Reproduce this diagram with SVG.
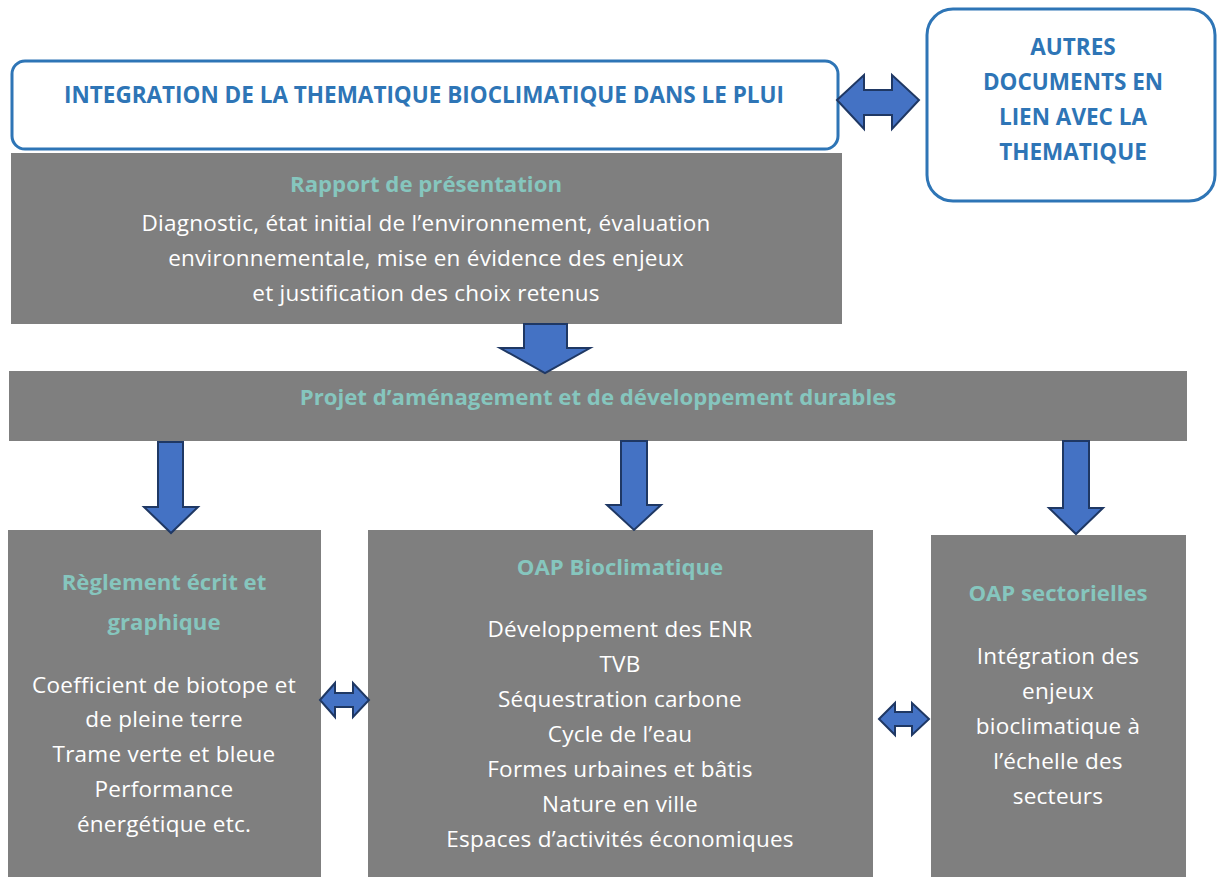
<svg xmlns="http://www.w3.org/2000/svg" width="1217" height="877" viewBox="0 0 1217 877">
<style>
.blue{fill:#fff;stroke:#2E75B6;stroke-width:3}
.gray{fill:#7F7F7F}
.bt{font-family:"Open Sans",Lato,sans-serif;font-weight:bold;fill:#2E75B6;font-size:22.5px;text-anchor:middle}
.tt{font-family:"Open Sans",Lato,sans-serif;font-weight:bold;fill:#86C6BE;font-size:22.2px;text-anchor:middle}
.wt{font-family:"Open Sans",Lato,sans-serif;fill:#fff;font-size:22.5px;letter-spacing:0.25px;text-anchor:middle}
.arr{fill:#4472C4;stroke:#1F3864;stroke-width:2;stroke-linejoin:miter}
</style>
<rect width="1217" height="877" fill="#fff"/>
<g id="integration">
<rect class="blue" x="12" y="61" width="826" height="88" rx="13"/>
<text class="bt" x="424" y="103">INTEGRATION DE LA THEMATIQUE BIOCLIMATIQUE DANS LE PLUI</text>
</g>
<g id="autres">
<rect class="blue" x="927" y="9" width="288" height="192" rx="26"/>
<text class="bt" x="1073" y="55">AUTRES</text>
<text class="bt" x="1073" y="90">DOCUMENTS EN</text>
<text class="bt" x="1073" y="125">LIEN AVEC LA</text>
<text class="bt" x="1073" y="160">THEMATIQUE</text>
</g>
<g id="rapport">
<rect class="gray" x="11" y="153" width="831" height="171"/>
<text class="tt" x="426" y="192">Rapport de présentation</text>
<text class="wt" x="426" y="231">Diagnostic, état initial de l’environnement, évaluation</text>
<text class="wt" x="426" y="266">environnementale, mise en évidence des enjeux</text>
<text class="wt" x="426" y="301">et justification des choix retenus</text>
</g>
<g id="padd">
<rect class="gray" x="9" y="371" width="1178" height="70"/>
<text class="tt" x="598" y="405">Projet d’aménagement et de développement durables</text>
</g>
<g id="reglement">
<rect class="gray" x="8" y="530" width="313" height="347"/>
<text class="tt" x="164" y="590">Règlement écrit et</text>
<text class="tt" x="164" y="630">graphique</text>
<text class="wt" x="164" y="693">Coefficient de biotope et</text>
<text class="wt" x="164" y="727">de pleine terre</text>
<text class="wt" x="164" y="762">Trame verte et bleue</text>
<text class="wt" x="164" y="797">Performance</text>
<text class="wt" x="164" y="832">énergétique etc.</text>
</g>
<g id="oap-bioclimatique">
<rect class="gray" x="368" y="530" width="505" height="347"/>
<text class="tt" x="620" y="575">OAP Bioclimatique</text>
<text class="wt" x="620" y="637">Développement des ENR</text>
<text class="wt" x="620" y="672">TVB</text>
<text class="wt" x="620" y="707">Séquestration carbone</text>
<text class="wt" x="620" y="742">Cycle de l’eau</text>
<text class="wt" x="620" y="777">Formes urbaines et bâtis</text>
<text class="wt" x="620" y="812">Nature en ville</text>
<text class="wt" x="620" y="847">Espaces d’activités économiques</text>
</g>
<g id="oap-sectorielles">
<rect class="gray" x="931" y="535" width="255" height="342"/>
<text class="tt" x="1058" y="601">OAP sectorielles</text>
<text class="wt" x="1058" y="664">Intégration des</text>
<text class="wt" x="1058" y="699">enjeux</text>
<text class="wt" x="1058" y="734">bioclimatique à</text>
<text class="wt" x="1058" y="769">l’échelle des</text>
<text class="wt" x="1058" y="804">secteurs</text>
</g>
<g id="connectors">
<polygon class="arr" points="837,100 864,75 864,90 892,90 892,75 919,100 892,129 892,115 864,115 864,129"/>
<polygon class="arr" points="524,324 567,324 567,348 590,348 545,373 500,348 524,348"/>
<polygon class="arr" points="158,442 183,442 183,507 198,507 171,533 144,507 158,507"/>
<polygon class="arr" points="621,441 647,441 647,505 661,505 634,530 607,505 621,505"/>
<polygon class="arr" points="1063,441 1089,441 1089,508 1103,508 1076,534 1049,508 1063,508"/>
<polygon class="arr" points="320,700 335,683 335,693 353,693 353,683 369,700 353,717 353,707 335,707 335,717"/>
<polygon class="arr" points="879,719 895,703 895,712 912,712 912,703 929,719 912,735 912,726 895,726 895,735"/>
</g>
</svg>
